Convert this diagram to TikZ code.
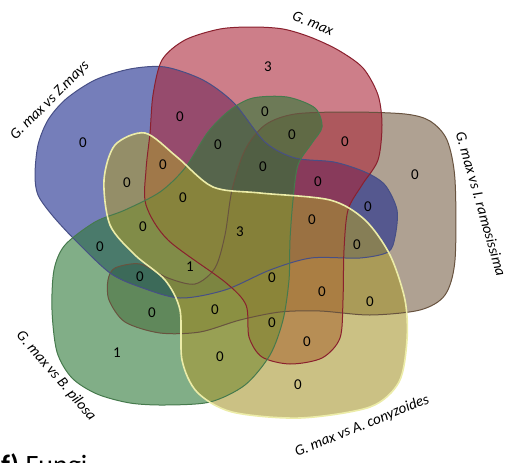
\documentclass[tikz,border=0pt]{standalone}
\usepackage{fontspec}
\setmainfont{Carlito}
\definecolor{gmaxred}{RGB}{172,40,58}
\definecolor{zmaysblue}{RGB}{25,40,140}
\definecolor{iramobrown}{RGB}{122,98,74}
\definecolor{bpilosagreen}{RGB}{45,120,55}
\definecolor{aconyyellow}{RGB}{168,152,50}
\definecolor{aconyline}{RGB}{236,236,168}
% outlines of the five sets (picture coordinates, y downwards)
\newcommand\gmaxpath{plot[smooth cycle] coordinates {(150,133) (153,95) (162,60) (185,40) (220,29) (253,27) (283,29) (310,37) (338,50) (363,68) (378,95) (382,125) (378,160) (362,185) (348,210) (344,250) (343,300) (340,338) (322,358) (290,364) (262,357) (249,337) (246,305) (225,282) (168,240) (146,205) (146,170)}}
\newcommand\zmayspath{plot[smooth cycle] coordinates {(35,175) (38,145) (48,120) (66,99) (95,80) (130,69) (165,67) (203,80) (234,103) (265,142) (295,158) (334,162) (365,172) (385,185) (397,210) (395,237) (388,252) (360,258) (311,258) (270,270) (225,290) (180,298) (140,287) (110,273) (75,240) (52,215) (38,195)}}
\newcommand\iramopath{plot[smooth cycle] coordinates {(295,114) (350,112) (405,114) (430,121) (447,140) (455,180) (455,260) (445,295) (420,310) (370,315) (320,311) (280,312) (240,320) (200,332) (160,333) (125,322) (109,300) (108,280) (115,268) (140,264) (168,278) (195,284) (215,268) (225,235) (232,190) (245,150) (265,125)}}
\newcommand\bpilosapath{plot[smooth cycle] coordinates {(230,110) (253,98) (287,97) (315,108) (322,127) (312,143) (298,165) (293,200) (290,240) (289,280) (283,320) (270,355) (245,385) (210,402) (165,405) (130,403) (97,394) (72,378) (57,352) (52,310) (54,270) (65,245) (95,222) (125,210) (160,192) (185,168) (208,132)}}
\newcommand\aconypath{plot[smooth cycle] coordinates {(145,133) (177,157) (213,187) (260,193) (330,200) (365,220) (390,255) (405,300) (407,340) (399,382) (370,407) (300,418) (232,412) (197,392) (182,360) (180,310) (165,280) (135,255) (110,225) (104,180) (115,145)}}
\begin{document}
\begin{tikzpicture}[x=1pt, y=-1pt,
  setfill/.style={fill=#1, fill opacity=0.6},
  setline/.style={draw=#1, line width=1pt},
  setname/.style={font=\fontsize{15}{17}\selectfont\itshape, inner sep=0pt},
  tally/.style={font=\fontsize{15}{17}\selectfont, inner sep=0pt}]
  \path[use as bounding box, clip] (0,0) rectangle (506,463);
  % Set areas
  \fill[setfill=iramobrown] \iramopath;
  \fill[setfill=zmaysblue] \zmayspath;
  \fill[setfill=gmaxred] \gmaxpath;
  \fill[setfill=bpilosagreen] \bpilosapath;
  \fill[setfill=aconyyellow] \aconypath;
  % Set outlines
  \draw[setline=iramobrown!85!black] \iramopath;
  \draw[setline=zmaysblue!55!gray] \zmayspath;
  \draw[setline=gmaxred!80!black] \gmaxpath;
  \draw[setline=bpilosagreen!70!gray] \bpilosapath;
  \draw[setline=aconyline, line width=1.6pt] \aconypath;
  % Set names
  \node[setname, rotate=-22] (lblmax) at (313,23) {G. max};
  \node[setname, rotate=45] (lblzm) at (50,101) {G. max vs Z.mays};
  \node[setname, rotate=-74] (lblir) at (481,204) {G. max vs I. ramosissima};
  \node[setname, rotate=-49] (lblbp) at (56,376) {G. max vs B. pilosa};
  \node[setname, rotate=22] (lblac) at (362,426) {G. max vs A. conyzoides};
  % Counts
  \foreach \x/\y/\v [count=\i] in {268/67/3, 83/143/0, 180/117/0, 265/112/0, 292/135/0,
      345/142/0, 415/175/0, 218/145/0, 163/165/0, 127/183/0, 263/167/0, 318/182/0,
      183/198/0, 368/207/0, 143/227/0, 240/232/3, 312/220/0, 357/245/0, 100/247/0,
      190/267/1, 140/277/0, 272/278/0, 322/292/0, 370/302/0, 152/313/0, 215/310/0,
      272/323/0, 307/342/0, 220/357/0, 117/353/1, 298/385/0}
    \node[tally] (n\i) at (\x,\y) {\v};
  % Panel caption
  \node[font=\fontsize{28}{30}\selectfont, anchor=base west, inner sep=0pt] (panel) at (1,474) {\textbf{f)} Fungi};
\end{tikzpicture}
\end{document}
